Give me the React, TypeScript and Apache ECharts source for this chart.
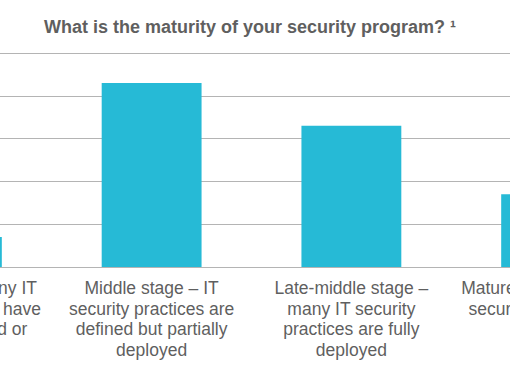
import React, { useEffect, useRef } from "react";
import * as echarts from "echarts";

const categories: string[] = [
  "Early stage – many IT\nsecurity practices have\nnot been defined or\ndeployed",
  "Middle stage – IT\nsecurity practices are\ndefined but partially\ndeployed",
  "Late-middle stage –\nmany IT security\npractices are fully\ndeployed",
  "Mature stage – most IT\nsecurity practices are\ndeployed",
];
const values: number[] = [7, 43, 33, 17];
const titleText = "What is the maturity of your security program? ¹";

const FONT = "'Liberation Sans', Arial, sans-serif";

export default function App() {
  const ref = useRef<HTMLDivElement>(null);
  useEffect(() => {
    if (!ref.current) return;
    const chart = echarts.init(ref.current, undefined, { renderer: "svg" });
    chart.setOption({
      animation: false,
      backgroundColor: "#ffffff",
      title: {
        text: titleText,
        left: 148 + 44,
        top: 18,
        padding: 0,
        textStyle: {
          fontFamily: FONT,
          fontSize: 18,
          fontWeight: "bold",
          color: "#5f5f5f",
        },
      },
      grid: { left: 0, right: 0, top: 53, bottom: 115, containLabel: false },
      xAxis: {
        type: "category",
        data: categories,
        axisTick: { show: false },
        axisLine: { show: true, lineStyle: { color: "#b4b4b4", width: 1 } },
        axisLabel: {
          interval: 0,
          margin: 11,
          fontFamily: FONT,
          fontSize: 17.5,
          lineHeight: 20.5,
          color: "#5f5f5f",
          align: "center",
        },
      },
      yAxis: {
        type: "value",
        min: 0,
        max: 50,
        interval: 10,
        axisLabel: { show: false },
        axisLine: { show: false },
        axisTick: { show: false },
        splitLine: { show: true, lineStyle: { color: "#b4b4b4", width: 1 } },
      },
      series: [
        {
          type: "bar",
          data: values,
          barWidth: "50%",
          itemStyle: { color: "#26BAD6" },
        },
      ],
    });
    return () => chart.dispose();
  }, []);
  return (
    <div
      style={{
        position: "fixed",
        left: 0,
        top: 0,
        width: 510,
        height: 382,
        overflow: "hidden",
        background: "#fff",
      }}
    >
      <div
        ref={ref}
        style={{ position: "absolute", left: -148, top: 0, width: 799, height: 382 }}
      />
    </div>
  );
}
